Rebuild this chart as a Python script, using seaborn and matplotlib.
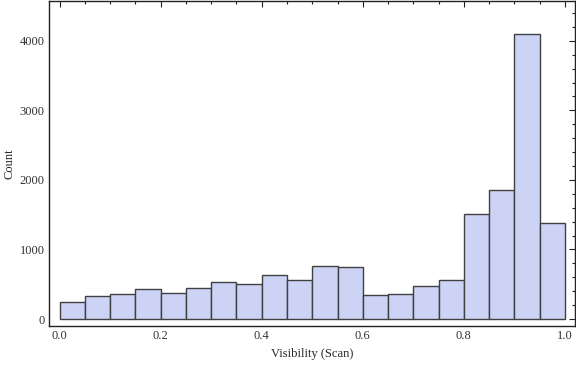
import numpy as np
import matplotlib
matplotlib.use("Agg")
import matplotlib.pyplot as plt
import seaborn as sns
from matplotlib.ticker import MultipleLocator

# bin edges (width 0.05) and counts
bin_edges = [round(0.05 * i, 2) for i in range(21)]
counts = [244, 330, 358, 430, 373, 444, 530, 502, 630, 559,
          760, 745, 344, 358, 473, 559, 1505, 1850, 4105, 1380]
bin_centers = [round(e + 0.025, 3) for e in bin_edges[:-1]]

sns.set_style("white")
plt.rcParams['font.family'] = ['Liberation Serif', 'DejaVu Serif']

fig = plt.figure(figsize=(5.76, 3.66), dpi=100)
ax = fig.add_axes([49 / 576, 40 / 366, 526 / 576, 325 / 366])

sns.histplot(x=bin_centers, weights=counts, bins=bin_edges, ax=ax,
             color='#ccd3f5', edgecolor='#404040', linewidth=1.0, alpha=1.0)

ax.set_xlim(-0.021, 1.02)
ax.set_ylim(-100, 4573)

ax.xaxis.set_major_locator(MultipleLocator(0.2))
ax.xaxis.set_minor_locator(MultipleLocator(0.05))
ax.yaxis.set_major_locator(MultipleLocator(1000))
ax.yaxis.set_minor_locator(MultipleLocator(200))
ax.xaxis.set_major_formatter(matplotlib.ticker.FormatStrFormatter('%.1f'))

ax.tick_params(which='both', direction='in', top=True, right=True,
               color='#222222', width=0.8, labelsize=9, labelcolor='#333333')
ax.tick_params(which='major', length=4, pad=3)
ax.tick_params(which='minor', length=2.5)
ax.tick_params(axis='y', labelright=False)

for s in ax.spines.values():
    s.set_visible(True)
    s.set_color('#222222')
    s.set_linewidth(1.0)

ax.set_xlabel('Visibility (Scan)', fontsize=9)
ax.set_ylabel('Count', fontsize=9)
ax.xaxis.set_label_coords(0.5, -0.068)
ax.yaxis.set_label_coords(-0.064, 0.5)

fig.savefig('out.png', dpi=100)
